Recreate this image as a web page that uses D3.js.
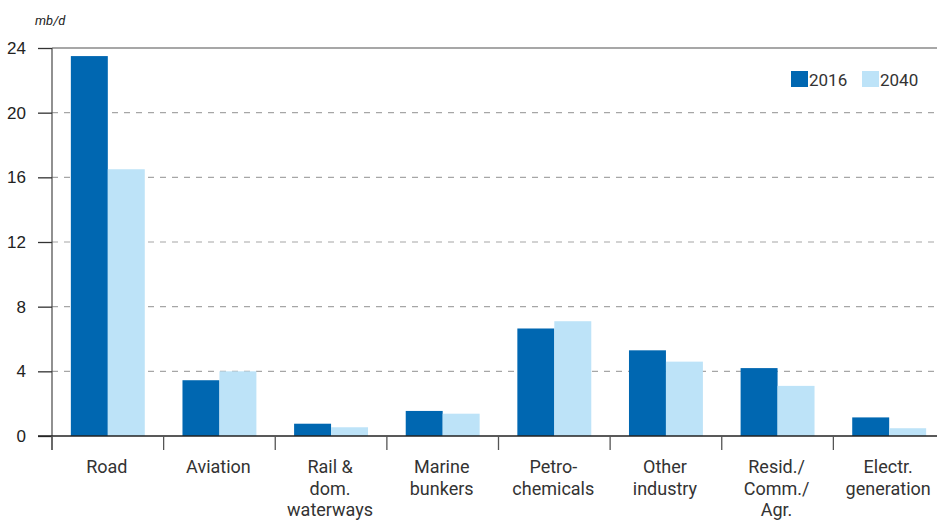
<!DOCTYPE html>
<html>
<head>
<meta charset="utf-8">
<script src="https://cdn.jsdelivr.net/npm/d3@7"></script>
<style>
  body { margin: 0; background: #fff; }
  svg { display: block; font-family: Roboto, "DejaVu Sans", sans-serif; }
</style>
</head>
<body>
<div id="chart"></div>
<script>
// Oil demand by sector, mb/d
var categories = [
    ['Road'],
    ['Aviation'],
    ['Rail &', 'dom.', 'waterways'],
    ['Marine', 'bunkers'],
    ['Petro-', 'chemicals'],
    ['Other', 'industry'],
    ['Resid./', 'Comm./', 'Agr.'],
    ['Electr.', 'generation']
];
var series = ['2016', '2040'];
var values2016 = [23.5, 3.45, 0.76, 1.55, 6.65, 5.3, 4.2, 1.15];
var values2040 = [16.5, 4.0, 0.54, 1.38, 7.1, 4.6, 3.1, 0.48];
var yTicks = [0, 4, 8, 12, 16, 20, 24];

var colors = { '2016': '#0067b1', '2040': '#bde3f8' };

var _width = 937, _height = 520;
var _left = 52, _right = 945, _top = 48, _bottom = 436;

var svg = d3.select( '#chart' ).append( 'svg' )
    .attr( 'width', _width )
    .attr( 'height', _height );

var idx = d3.range( categories.length );
var x = d3.scaleBand().domain( idx ).range( [ _left, _right ] ).paddingInner( 0 ).paddingOuter( 0 );
var inner = d3.scaleBand().domain( series ).range( [ 0, x.bandwidth() ] ).paddingOuter( 0.51 ).paddingInner( 0 );
var y = d3.scaleLinear().domain( [ 0, 24 ] ).range( [ _bottom, _top ] );

// gridlines
svg.append( 'g' ).selectAll( 'line' )
    .data( yTicks.filter( function ( d ) { return d > 0; } ) )
    .enter().append( 'line' )
    .attr( 'x1', _left ).attr( 'x2', _width )
    .attr( 'y1', function ( d ) { return y( d ); } )
    .attr( 'y2', function ( d ) { return y( d ); } )
    .attr( 'stroke', function ( d ) { return d === 24 ? '#8a8a8a' : '#a6a6a6'; } )
    .attr( 'stroke-width', function ( d ) { return d === 24 ? 1.5 : 1.2; } )
    .attr( 'stroke-dasharray', function ( d ) { return d === 24 ? null : '6,6'; } );

// bars
var groups = svg.append( 'g' ).selectAll( 'g' )
    .data( idx )
    .enter().append( 'g' )
    .attr( 'transform', function ( i ) { return 'translate(' + x( i ) + ',0)'; } );

groups.selectAll( 'rect' )
    .data( function ( i ) {
        return [ { s: '2016', v: values2016[ i ] }, { s: '2040', v: values2040[ i ] } ];
    } )
    .enter().append( 'rect' )
    .attr( 'x', function ( d ) { return inner( d.s ); } )
    .attr( 'width', inner.bandwidth() )
    .attr( 'y', function ( d ) { return y( d.v ); } )
    .attr( 'height', function ( d ) { return y( 0 ) - y( d.v ); } )
    .attr( 'fill', function ( d ) { return colors[ d.s ]; } );

// y axis
var yAxis = svg.append( 'g' )
    .attr( 'transform', 'translate(' + _left + ',0)' )
    .call( d3.axisLeft( y ).tickValues( yTicks ).tickSize( 14 ).tickPadding( 8 ).tickSizeOuter( 0 ) );
yAxis.select( '.domain' ).attr( 'stroke', '#555' ).attr( 'stroke-width', 1.3 )
    .attr( 'd', 'M0,' + _top + 'V' + ( _bottom + 14 ) );
yAxis.selectAll( '.tick line' ).attr( 'stroke', '#333' ).attr( 'stroke-width', 1.3 );
yAxis.selectAll( '.tick text' ).attr( 'font-size', 17 ).attr( 'fill', '#222' ).attr( 'dx', -4 );

// x axis
var xAxis = svg.append( 'g' )
    .attr( 'transform', 'translate(0,' + _bottom + ')' );
xAxis.append( 'line' )
    .attr( 'x1', _left - 14 ).attr( 'x2', _width )
    .attr( 'stroke', '#222' ).attr( 'stroke-width', 1.5 );
xAxis.selectAll( '.ctick' )
    .data( idx )
    .enter().append( 'line' )
    .attr( 'class', 'ctick' )
    .attr( 'x1', function ( i ) { return x( i ); } )
    .attr( 'x2', function ( i ) { return x( i ); } )
    .attr( 'y1', 0 ).attr( 'y2', 14 )
    .attr( 'stroke', '#555' ).attr( 'stroke-width', 1.3 );

var labels = xAxis.selectAll( '.clabel' )
    .data( idx )
    .enter().append( 'text' )
    .attr( 'class', 'clabel' )
    .attr( 'text-anchor', 'middle' )
    .attr( 'font-size', 18 )
    .attr( 'fill', '#333' )
    .attr( 'transform', function ( i ) { return 'translate(' + ( x( i ) + x.bandwidth() / 2 - 1 ) + ',37)'; } );
labels.selectAll( 'tspan' )
    .data( function ( i ) { return categories[ i ]; } )
    .enter().append( 'tspan' )
    .attr( 'x', 0 )
    .attr( 'y', function ( d, j ) { return j * 21.7; } )
    .text( function ( d ) { return d; } );

// unit
svg.append( 'text' )
    .attr( 'x', 35 ).attr( 'y', 25 )
    .attr( 'font-size', 13 )
    .attr( 'font-style', 'italic' )
    .attr( 'fill', '#222' )
    .text( 'mb/d' );

// legend
var legend = svg.append( 'g' ).selectAll( 'g' )
    .data( series )
    .enter().append( 'g' )
    .attr( 'transform', function ( d, i ) { return 'translate(' + ( 791 + i * 71 ) + ',71)'; } );
legend.append( 'rect' )
    .attr( 'width', 17 ).attr( 'height', 16 )
    .attr( 'fill', function ( d ) { return colors[ d ]; } );
legend.append( 'text' )
    .attr( 'x', 18 ).attr( 'y', 15 )
    .attr( 'font-size', 17 )
    .attr( 'fill', '#333' )
    .text( function ( d ) { return d; } );
</script>
</body>
</html>
